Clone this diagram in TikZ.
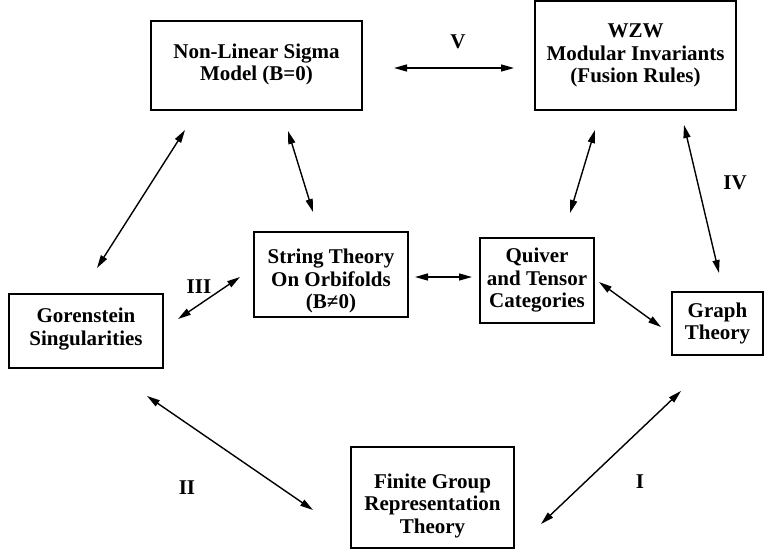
\documentclass[tikz,border=0pt]{standalone}
\usepackage{fontspec}
\setmainfont{Liberation Serif}
\usetikzlibrary{arrows.meta}

\tikzset{
topic/.style={draw,line width=1.9pt,inner sep=0pt,outer sep=0pt},
words/.style={align=center,inner sep=0pt,font=\bfseries\fontsize{21}{22.5}\selectfont},
link/.style={{Triangle[length=13pt,width=7pt]}-{Triangle[length=13pt,width=7pt]},line width=1.4pt},
tag/.style={font=\bfseries\fontsize{21}{22.5}\selectfont}
}

\begin{document}
\begin{tikzpicture}[x=1pt,y=-1pt]
\useasboundingbox (0,0) rectangle (764,558);
\draw
(256.5,65.5) node[topic,minimum width=211pt,minimum height=89pt,
  label={[words,yshift=1pt]center:Non-Linear Sigma\\Model (B=0)}](nlsm){}
(635.5,55.5) node[topic,minimum width=201pt,minimum height=109pt,
  label={[words]center:WZW\\Modular Invariants\\(Fusion Rules)}](wzw){}
(331,274.5) node[topic,minimum width=154pt,minimum height=85pt,
  label={[words,yshift=-6.5pt]center:String Theory\\On Orbifolds\\(B≠0)}](str){}
(537,280.5) node[topic,minimum width=114pt,minimum height=85pt,
  label={[words]center:Quiver\\and Tensor\\Categories}](quiv){}
(86,331) node[topic,minimum width=154pt,minimum height=74pt,
  label={[words,yshift=2pt]center:Gorenstein\\Singularities}](gor){}
(717.5,323.5) node[topic,minimum width=91pt,minimum height=63pt,
  label={[words]center:Graph\\Theory}](graph){}
(432.5,497.5) node[topic,minimum width=163pt,minimum height=101pt,
  label={[words,yshift=-8pt]center:Finite Group\\Representation\\Theory}](fin){}
;
%%% roman labels
\draw
(458,42) node[tag](lV){V}
(735,183) node[tag](lIV){IV}
(199,287) node[tag](lIII){III}
(187,488) node[tag](lII){II}
(640,482) node[tag](lI){I}
;
%%% double arrows
\draw[link]([xshift=32pt,yshift=-2.5pt]nlsm.east) -- ([xshift=-21pt,yshift=-12.5pt]wzw.west);
\draw[link]([xshift=-71.5pt,yshift=-20pt]nlsm.south) -- ([xshift=11pt,yshift=26pt]gor.north);
\draw[link]([xshift=31.5pt,yshift=-21pt]nlsm.south) -- ([xshift=-18pt,yshift=20pt]str.north);
\draw[link]([xshift=-40.5pt,yshift=-20pt]wzw.south) -- ([xshift=33pt,yshift=25pt]quiv.north);
\draw[link]([xshift=48.5pt,yshift=-15pt]wzw.south) -- ([xshift=1.5pt,yshift=19pt]graph.north);
\draw[link]([xshift=7pt,yshift=-2.5pt]str.east) -- ([xshift=-8pt,yshift=3.5pt]quiv.west);
\draw[link]([xshift=5pt,yshift=-1.5pt]quiv.east) -- ([xshift=-11pt,yshift=-3.5pt]graph.west);
\draw[link]([xshift=15pt,yshift=12pt]gor.east) -- ([xshift=-14pt,yshift=-2.5pt]str.west);
\draw[link]([xshift=61pt,yshift=-28pt]gor.south) -- ([xshift=-38pt,yshift=-12.5pt]fin.west);
\draw[link]([xshift=-36.5pt,yshift=-36pt]graph.south) -- ([xshift=27pt,yshift=-26.5pt]fin.east);
\end{tikzpicture}
\end{document}
